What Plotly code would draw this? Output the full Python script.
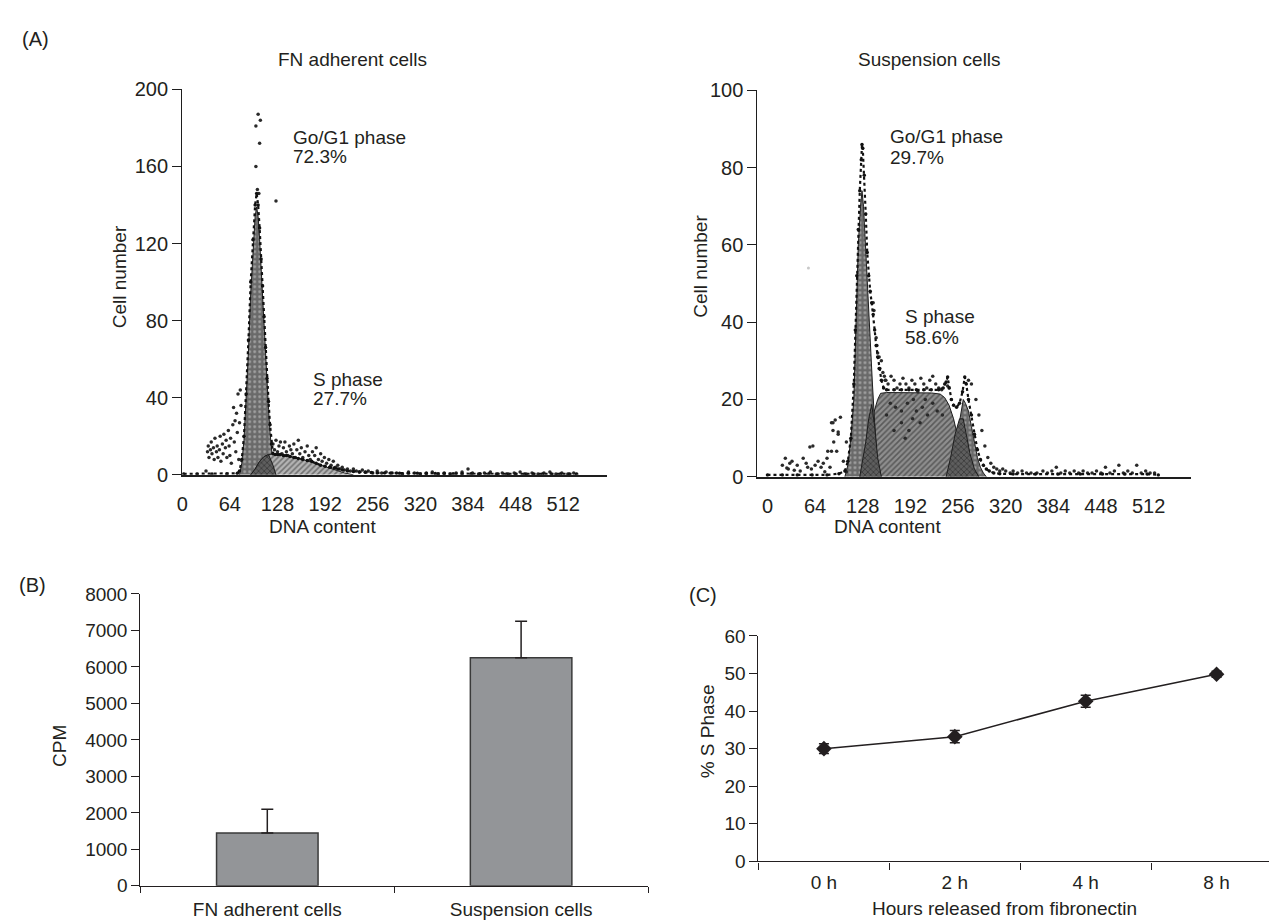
import plotly.graph_objects as go

W, H = 1277, 922
TXT = "#231f20"
FONT = "Liberation Sans, Arial, sans-serif"

# ---------------- Panel A (left): FN adherent cells ----------------
dna_ticks = [0, 64, 128, 192, 256, 320, 384, 448, 512]
fn_yticks = [0, 40, 80, 120, 160, 200]
sus_yticks = [0, 20, 40, 60, 80, 100]

# raw histogram envelope (DNA channel, cell count)
fn_raw_x = [2, 20, 40, 60, 74, 77, 80, 83, 86, 89, 92, 95, 98, 100, 102, 104, 106, 108, 110, 112,
            114, 116, 118, 120, 122, 125, 128, 132, 136, 140, 145, 150, 156, 162, 168, 174, 180, 186,
            192, 198, 204, 210, 216, 222, 230, 238, 246, 254, 262, 272, 282, 292, 304, 316, 328, 340,
            352, 364, 376, 388, 400, 412, 424, 436, 448, 460, 472, 484, 496, 508, 520, 530]
fn_raw_y = [0.5, 0.5, 0.5, 0.5, 0.8, 2, 8, 20, 42, 70, 100, 122, 140, 146, 140, 128, 112, 98, 82, 66,
            50, 38, 26, 16, 11, 10.5, 10.5, 10.5, 10, 10, 9.5, 9, 8.5, 8, 7.5, 7, 6, 5,
            4.5, 4, 3.5, 3, 2.5, 2, 1.8, 1.5, 1.3, 1.2, 1, 1, 1, 0.8, 0.8, 0.8, 0.7, 0.7,
            0.7, 0.6, 0.6, 0.6, 0.6, 0.6, 0.5, 0.5, 0.5, 0.5, 0.5, 0.5, 0.5, 0.5, 0.5, 0.5]
# fitted G0/G1 component
fn_g1_x = [77, 80, 83, 86, 89, 92, 95, 98, 100, 102, 104, 106, 108, 110, 112, 114, 116, 118, 120, 122, 124, 126]
fn_g1_y = [0, 6, 18, 38, 64, 94, 118, 134, 139, 134, 122, 106, 92, 76, 60, 46, 34, 22, 12, 5, 2, 0]
# fitted S-phase component
fn_s_x = [92, 98, 104, 110, 116, 124, 134, 146, 158, 170, 182, 194, 206, 218, 230]
fn_s_y = [0, 3, 7, 9.5, 10.5, 11, 10.5, 9.5, 8.5, 7, 5.5, 4, 2.5, 1, 0]
# overlap of G1 and S components
fn_ov_x = [92, 98, 104, 110, 116, 122, 126]
fn_ov_y = [0, 3, 7, 9.5, 10.5, 5, 0]
# scattered raw points
fn_dot_x = [32, 34, 35, 36, 38, 39, 40, 42, 43, 44, 46, 47, 48, 50, 51, 52, 54, 55, 56, 58, 59, 60, 62,
            63, 64, 65, 66, 68, 69, 70, 71, 72, 73, 74, 75, 76, 77, 78, 79,
            122, 124, 126, 128, 130, 132, 134, 136, 138, 140, 142, 144, 146, 148, 150, 152, 154, 156,
            158, 160, 162, 165, 168, 170, 172, 175, 178, 180, 183, 186, 188, 191, 194, 197, 200, 203,
            206, 209, 212, 215, 218, 222, 226, 230, 234, 238, 242, 246, 250, 256, 262, 268, 274, 280,
            288, 296, 304, 312, 320, 328, 336, 344, 352, 360, 368, 376, 384, 390, 398, 406, 414, 422,
            430, 438, 446, 454, 462, 470, 478, 486, 494, 502, 510, 518, 526,
            102, 105, 99, 104, 99, 126, 101, 103]
fn_dot_y = [2, 12, 15, 9, 13, 17, 11, 14, 8, 19, 12, 15, 9, 13, 20, 7, 16, 11, 21, 14, 18, 9, 23,
            15, 10, 19, 6, 26, 35, 17, 28, 12, 32, 22, 42, 8, 27, 44, 36,
            16, 13, 18, 12, 15, 17, 11, 14, 17, 12, 10, 15, 13, 11, 16, 9, 13, 18,
            11, 14, 9, 12, 15, 10, 8, 12, 10, 14, 8, 11, 7, 9, 6, 8, 5, 7,
            4, 5, 3, 4, 2.5, 3, 2, 3, 2, 1.5, 2.5, 1.5, 2, 1, 2, 1, 1.5, 1,
            1, 0.5, 1.5, 1, 0.5, 1, 1.5, 0.5, 1, 0.5, 1, 1.5, 3, 1, 0.5, 1, 1.5, 0.5,
            1, 0.5, 1, 1.5, 0.5, 1, 0.5, 1, 1.5, 0.5, 1, 0.5, 1,
            187, 184, 181, 172, 160, 142, 148, 146]
fn_faint_x = [129]
fn_faint_y = [203]

# ---------------- Panel A (right): Suspension cells ----------------
sus_raw_x = [0, 20, 40, 60, 80, 96, 104, 108, 112, 116, 118, 120, 122, 124, 126, 127, 128, 130, 132, 134,
             136, 138, 140, 142, 144, 146, 148, 150, 153, 156, 160, 170, 180, 190, 200, 210, 220, 230,
             236, 240, 242, 244, 247, 250, 254, 258, 262, 265, 267, 270, 274, 278, 282, 286, 290, 294,
             298, 304, 312, 330, 360, 390, 420, 450, 480, 510, 525]
sus_raw_y = [0.5, 0.5, 0.5, 0.5, 0.5, 0.8, 1.5, 4, 10, 24, 38, 52, 64, 74, 82, 86, 85, 78, 68, 58,
             52, 48, 45, 42, 38, 34, 31, 28, 25, 23, 22.5, 22.5, 22.5, 22.5, 22.5, 22.5, 22.5, 22.5,
             23, 24.5, 25.8, 23, 20, 18.5, 18, 19, 22, 25.8, 24, 20, 16, 11, 7, 4.5, 3, 2,
             1.5, 1, 0.8, 0.7, 0.7, 0.7, 0.7, 0.7, 0.7, 0.7, 0.5]
sus_g1_x = [104, 108, 112, 116, 119, 122, 125, 127, 129, 132, 135, 138, 141, 144, 147, 150]
sus_g1_y = [0, 3, 10, 20, 40, 60, 70, 74, 70, 58, 45, 35, 24, 14, 5, 0]
sus_s_x = [124, 130, 136, 142, 148, 152, 160, 180, 200, 220, 232, 238, 244, 250, 256, 262, 268]
sus_s_y = [0, 4, 10, 16, 20, 21.6, 21.8, 21.8, 21.8, 21.7, 21.4, 20.5, 18.5, 15, 10, 4, 0]
sus_ov1_x = [124, 128, 132, 136, 140, 144, 148, 153]
sus_ov1_y = [0, 4, 9, 15, 18.7, 13, 5, 0]
sus_g2_x = [246, 252, 256, 260, 263, 266, 270, 274, 278, 282, 286, 290, 294]
sus_g2_y = [0, 6, 12, 17, 20, 19, 17, 13, 9, 5, 2.5, 1, 0]
sus_ov2_x = [240, 246, 252, 258, 263, 268, 272, 278, 284]
sus_ov2_y = [0, 5, 11, 15, 15, 10, 6, 2, 0]
sus_dot_x = [24, 26, 30, 36, 48, 54, 57, 61, 68, 77, 80, 81, 84, 86, 86, 88, 88, 89, 91, 93, 95, 95, 98,
             102, 106, 106, 20, 28, 33, 40, 44, 52, 59, 64, 72, 75,
             142, 143, 146, 147, 148, 150, 151, 153, 155, 157, 159,
             158, 162, 166, 170, 174, 178, 182, 186, 190, 194, 198, 202, 206, 210, 214, 218, 222, 226,
             230, 234, 238, 242,
             165, 172, 180, 188, 195, 200, 208, 215, 222, 180, 190, 205, 170, 160, 228, 235, 196, 212, 185,
             270, 274, 280, 284, 288, 292, 296, 300, 304, 308,
             312, 316, 320, 326, 330, 336, 342, 348, 354, 362, 370, 376, 382, 388, 394, 400, 406, 412,
             418, 424, 430, 436, 442, 448, 454, 460, 466, 472, 478, 484, 490, 496, 502, 508, 514, 520]
sus_dot_y = [4.8, 2.3, 3.5, 1.7, 4.8, 2.5, 7.7, 8, 4, 1.3, 4.8, 6.6, 2.5, 14, 6.6, 12, 14, 9, 14.7, 6.6, 11, 11.6, 15.4,
             4, 9, 1.3, 3, 2, 4, 3, 1.5, 3.5, 2, 3, 2.5, 3.5,
             45, 43, 36, 34, 32, 31, 28, 30, 27, 26, 25,
             25, 24, 26, 25, 23, 24, 25.5, 24, 23, 25, 24, 22, 25.5, 24, 23, 25, 26, 24,
             23, 22.5, 24, 23.5,
             19, 18, 17, 19, 15, 17, 18, 16, 19, 14, 12, 14, 12, 16, 17, 16, 20, 20, 10,
             25, 24, 20, 16, 12, 8, 5, 3.5, 2.5, 2,
             1.5, 2, 1.5, 1, 1.5, 1, 1.5, 1, 1, 1, 1.5, 1, 1.5, 2.5, 1, 1.5, 1, 1.5,
             1, 1.5, 1, 1, 1.5, 1, 2.5, 1, 1.5, 3, 1, 1.5, 1, 3, 1, 1.5, 1, 1]
sus_faint_x = [55]
sus_faint_y = [54]

# ---------------- Panel B ----------------
cells = ["FN adherent cells", "Suspension cells"]
cpm = [1450, 6250]
cpm_err = [650, 1000]
cpm_ticks = [0, 1000, 2000, 3000, 4000, 5000, 6000, 7000, 8000]

# ---------------- Panel C ----------------
hours = ["0 h", "2 h", "4 h", "8 h"]
s_phase = [30.0, 33.2, 42.6, 49.8]
s_phase_err = [1.3, 1.6, 1.6, 0.8]
pct_ticks = [0, 10, 20, 30, 40, 50, 60]


def dom_x(a, b):
    return [a / W, b / W]


def dom_y(top, bottom):
    return [1 - bottom / H, 1 - top / H]


fig = go.Figure()

G1_PAT = dict(shape=".", bgcolor="#6a6a6a", fgcolor="#d8d8d8", size=5, solidity=0.25)
S_PAT_L = dict(shape="/", bgcolor="#b4b4b4", fgcolor="#2e2e2e", size=4, solidity=0.4)
S_PAT_R = dict(shape="/", bgcolor="#8e8e8e", fgcolor="#262626", size=4, solidity=0.4)
OV_PAT = dict(shape="x", bgcolor="#5e5e5e", fgcolor="#1a1a1a", size=4, solidity=0.4)


def area(x, y, pat, xa, ya, lw=1):
    fig.add_trace(go.Scatter(x=x, y=y, xaxis=xa, yaxis=ya, mode="lines", fill="tozeroy",
                             fillpattern=pat, line=dict(color="#1e1e1e", width=lw),
                             showlegend=False, hoverinfo="skip"))


# left histogram
area(fn_g1_x, fn_g1_y, G1_PAT, "x", "y")
area(fn_s_x, fn_s_y, S_PAT_L, "x", "y")
area(fn_ov_x, fn_ov_y, OV_PAT, "x", "y")
fig.add_trace(go.Scatter(x=fn_dot_x, y=fn_dot_y, xaxis="x", yaxis="y", mode="markers",
                         marker=dict(size=3.5, color="#2a2a2a"), cliponaxis=False, showlegend=False))
fig.add_trace(go.Scatter(x=fn_faint_x, y=fn_faint_y, xaxis="x", yaxis="y", mode="markers",
                         marker=dict(size=3, color="#c8c8c8"), cliponaxis=False, showlegend=False))
fig.add_trace(go.Scatter(x=fn_raw_x, y=fn_raw_y, xaxis="x", yaxis="y", mode="lines+markers",
                         line=dict(color="#111", width=2.2, dash="dot"),
                         marker=dict(size=3.5, color="#111"), showlegend=False))

# right histogram
area(sus_s_x, sus_s_y, S_PAT_R, "x2", "y2")
area(sus_g1_x, sus_g1_y, G1_PAT, "x2", "y2")
area(sus_ov1_x, sus_ov1_y, OV_PAT, "x2", "y2")
area(sus_g2_x, sus_g2_y, G1_PAT, "x2", "y2")
area(sus_ov2_x, sus_ov2_y, OV_PAT, "x2", "y2")
fig.add_trace(go.Scatter(x=sus_dot_x, y=sus_dot_y, xaxis="x2", yaxis="y2", mode="markers",
                         marker=dict(size=3.5, color="#2a2a2a"), cliponaxis=False, showlegend=False))
fig.add_trace(go.Scatter(x=sus_faint_x, y=sus_faint_y, xaxis="x2", yaxis="y2", mode="markers",
                         marker=dict(size=3, color="#c8c8c8"), showlegend=False))
fig.add_trace(go.Scatter(x=sus_raw_x, y=sus_raw_y, xaxis="x2", yaxis="y2", mode="lines+markers",
                         line=dict(color="#111", width=2.2, dash="dot"),
                         marker=dict(size=3.5, color="#111"), showlegend=False))

# bar chart
fig.add_trace(go.Bar(x=cells, y=cpm, xaxis="x3", yaxis="y3", width=0.4,
                     marker=dict(color="#939598", line=dict(color="#3a3a3a", width=1.5)),
                     error_y=dict(type="data", array=cpm_err, arrayminus=[0, 0], symmetric=False,
                                  color="#231f20", thickness=1.5, width=6),
                     showlegend=False))

# line chart
fig.add_trace(go.Scatter(x=hours, y=s_phase, xaxis="x4", yaxis="y4", mode="lines+markers",
                         line=dict(color="#231f20", width=1.5),
                         marker=dict(symbol="diamond", size=12, color="#231f20"),
                         error_y=dict(type="data", array=s_phase_err, color="#231f20", thickness=1.5, width=5),
                         showlegend=False))

tf20 = dict(family=FONT, size=20, color=TXT)
tf19 = dict(family=FONT, size=19, color=TXT)

hist_x = dict(showgrid=False, zeroline=False, showline=True, linecolor="#1e1e1e", linewidth=2,
              ticks="", tickvals=dna_ticks, tickfont=tf20, ticklabelstandoff=10)
hist_y = dict(showgrid=False, zeroline=False, showline=True, linecolor="#1e1e1e", linewidth=1.3,
              ticks="outside", ticklen=9, tickwidth=1.3, tickcolor="#1e1e1e", tickfont=tf20)

fig.update_layout(
    width=W, height=H, margin=dict(l=0, r=0, t=0, b=0),
    paper_bgcolor="white", plot_bgcolor="white",
    font=dict(family=FONT, color=TXT),
    xaxis=dict(hist_x, domain=dom_x(169, 596), range=[0, 571], anchor="y"),
    yaxis=dict(hist_y, domain=dom_y(72, 467), range=[0, 200], tickvals=fn_yticks, anchor="x"),
    xaxis2=dict(hist_x, domain=dom_x(747, 1183), range=[-13.4, 569.5], anchor="y2"),
    yaxis2=dict(hist_y, domain=dom_y(73, 469), range=[0, 100], tickvals=sus_yticks, anchor="x2"),
    xaxis3=dict(showgrid=False, zeroline=False, showline=True, linecolor="#231f20", linewidth=1.3,
                ticks="outside", tickson="boundaries", ticklen=6, tickcolor="#231f20",
                tickfont=tf19, range=[-0.5, 1.5], domain=dom_x(127, 637), anchor="y3",
                ticklabelstandoff=6),
    yaxis3=dict(showgrid=False, zeroline=False, showline=True, linecolor="#231f20", linewidth=1.3,
                ticks="outside", ticklen=8, tickcolor="#231f20", tickfont=tf19,
                range=[0, 8000], tickvals=cpm_ticks, domain=dom_y(589, 888), anchor="x3"),
    xaxis4=dict(showgrid=False, zeroline=False, showline=True, linecolor="#231f20", linewidth=1.3,
                ticks="outside", tickson="boundaries", ticklen=7, tickcolor="#231f20",
                tickfont=tf19, range=[-0.5, 3.5], domain=dom_x(748, 1274), anchor="y4",
                ticklabelstandoff=4),
    yaxis4=dict(showgrid=False, zeroline=False, showline=True, linecolor="#231f20", linewidth=1.3,
                ticks="outside", ticklen=8, tickcolor="#231f20", tickfont=tf19,
                range=[0, 60], tickvals=pct_ticks, domain=dom_y(632, 863), anchor="x4"),
)


def ptext(txt, x, y, size=19, angle=0, xanchor="center"):
    fig.add_annotation(text=txt, x=x / W, y=1 - y / H, xref="paper", yref="paper",
                       showarrow=False, textangle=angle, xanchor=xanchor, yanchor="middle",
                       font=dict(family=FONT, size=size, color=TXT))


def dtext(txt, x, y, xa, ya, size=19):
    fig.add_annotation(text=txt, x=x, y=y, xref=xa, yref=ya, showarrow=False,
                       xanchor="left", yanchor="middle",
                       font=dict(family=FONT, size=size, color=TXT))


ptext("(A)", 22, 20, size=20)
ptext("(B)", 19, 580, size=20)
ptext("(C)", 692, 590, size=20)
ptext("FN adherent cells", 340, 41)
ptext("Suspension cells", 920, 41)
ptext("Cell number", 106, 264, angle=-90)
ptext("Cell number", 690, 253, angle=-90)
ptext("DNA content", 310, 520)
ptext("DNA content", 878, 520)
ptext("CPM", 45, 745, angle=-90)
ptext("% S Phase", 697, 730, angle=-90)
ptext("Hours released from fibronectin", 995, 911)

dtext("Go/G1 phase", 146, 175, "x", "y")
dtext("72.3%", 146, 165, "x", "y")
dtext("S phase", 172.5, 49.6, "x", "y")
dtext("27.7%", 172.5, 39.5, "x", "y")
dtext("Go/G1 phase", 162, 88, "x2", "y2")
dtext("29.7%", 162, 82.5, "x2", "y2")
dtext("S phase", 182, 41.4, "x2", "y2")
dtext("58.6%", 182, 36.1, "x2", "y2")

fig.write_html("out.html")
